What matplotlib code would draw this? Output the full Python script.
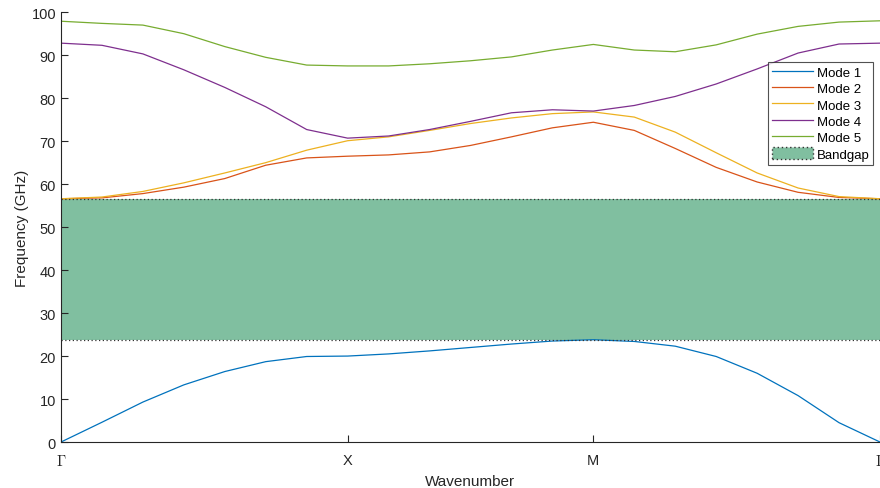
import matplotlib.pyplot as plt
import matplotlib.patches as mpatches

# Band structure data, 21 k-points along Gamma-X-M-Gamma
k_index = list(range(21))
tick_pos = [0, 7, 13, 20]
tick_labels = [r'$\Gamma$', 'X', 'M', r'$\Gamma$']

mode1 = [0, 4.6, 9.3, 13.3, 16.4, 18.7, 19.9, 20.0, 20.5, 21.2, 22.0, 22.8, 23.5, 23.8,
         23.4, 22.3, 19.9, 16.0, 10.8, 4.5, 0]
mode2 = [56.6, 56.8, 57.8, 59.3, 61.3, 64.4, 66.1, 66.5, 66.8, 67.5, 69.0, 71.0, 73.1, 74.4,
         72.5, 68.3, 63.9, 60.5, 58.1, 56.9, 56.6]
mode3 = [56.6, 57.0, 58.3, 60.3, 62.6, 65.0, 67.9, 70.1, 71.0, 72.5, 74.1, 75.4, 76.4, 76.8,
         75.6, 72.1, 67.3, 62.6, 59.1, 57.1, 56.6]
mode4 = [92.8, 92.3, 90.3, 86.6, 82.5, 78.0, 72.7, 70.7, 71.2, 72.7, 74.6, 76.6, 77.3, 77.0,
         78.3, 80.4, 83.3, 86.8, 90.5, 92.6, 92.8]
mode5 = [97.9, 97.4, 97.0, 95.0, 92.0, 89.5, 87.7, 87.5, 87.5, 88.0, 88.7, 89.6, 91.2, 92.5,
         91.2, 90.8, 92.4, 94.9, 96.7, 97.7, 98.0]

modes = [mode1, mode2, mode3, mode4, mode5]
names = ['Mode 1', 'Mode 2', 'Mode 3', 'Mode 4', 'Mode 5']
colors = ['#0072BD', '#D95319', '#EDB120', '#7E2F8E', '#77AC30']

gap_low = max(mode1)
gap_high = min(mode2)

plt.rcParams['font.family'] = ['Liberation Sans', 'DejaVu Sans']
plt.rcParams['mathtext.fontset'] = 'cm'

fig = plt.figure(figsize=(8.8, 4.89), dpi=100)
ax = fig.add_axes([0.0693, 0.094, 0.9307, 0.879])

for vals, name, c in zip(modes, names, colors):
    ax.plot(k_index, vals, color=c, linewidth=0.9, label=name)

ax.fill_between([k_index[0], k_index[-1]], gap_low, gap_high, color='#80BFA0', linewidth=0, zorder=0)
ax.hlines([gap_low, gap_high], k_index[0], k_index[-1], colors='#333333', linestyles=(0, (1, 2)), linewidth=0.9)
gap_patch = mpatches.Patch(facecolor='#80BFA0', edgecolor='#333333', linestyle=(0, (1, 2)), label='Bandgap')

ax.set_xlim(0, 20)
ax.set_ylim(0, 100)
ax.set_xticks(tick_pos)
ax.set_xticklabels(tick_labels)
ax.set_yticks(range(0, 101, 10))
ax.tick_params(direction='in', length=5, width=0.8, colors='#262626', labelsize=10.5)
ax.tick_params(axis='x', pad=8)
for s in ['top', 'right']:
    ax.spines[s].set_visible(False)
for s in ['left', 'bottom']:
    ax.spines[s].set_color('#262626')
    ax.spines[s].set_linewidth(0.8)

ax.set_xlabel('Wavenumber', fontsize=11, color='#262626', labelpad=4)
ax.set_ylabel('Frequency (GHz)', fontsize=11, color='#262626', labelpad=2)

handles, labels = ax.get_legend_handles_labels()
handles.append(gap_patch)
leg = ax.legend(handles=handles, loc='upper right', bbox_to_anchor=(0.992, 0.885),
                fontsize=9.5, frameon=True, fancybox=False, edgecolor='#262626',
                handlelength=3.1, handleheight=1.0, handletextpad=0.3, labelspacing=0.22,
                borderpad=0.3, borderaxespad=0)
leg.get_frame().set_linewidth(0.8)

plt.savefig('out.png', dpi=100)
